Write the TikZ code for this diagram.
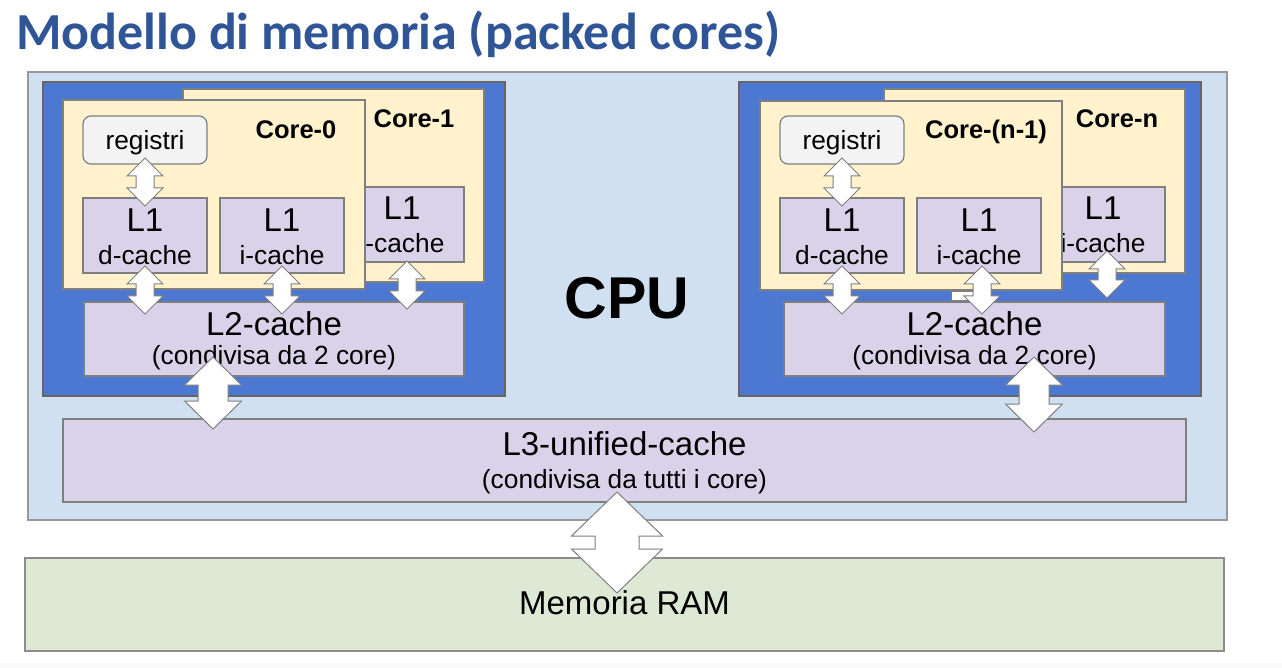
\documentclass[tikz,border=0pt]{standalone}
\usepackage{fontspec}
\setmainfont{Liberation Sans}
\newfontfamily\titlefont{Carlito}
\usetikzlibrary{calc}
\definecolor{cpubg}{HTML}{D0E0F1}
\definecolor{clusterblue}{HTML}{4C78D1}
\definecolor{coreyellow}{HTML}{FFF2CC}
\definecolor{cachepurple}{HTML}{D9D2E9}
\definecolor{regbg}{HTML}{F3F3F3}
\definecolor{ramgreen}{HTML}{DDE8D5}
\definecolor{edgegray}{HTML}{7F7F7F}
\definecolor{titleblue}{HTML}{2F5597}
\newcommand\fsz[1]{\fontsize{#1}{#1}\selectfont}
% block double arrow: #1 top tip, #2 bottom tip, #3 head half width, #4 shaft half width, #5 head length
\newcommand\blockarrow[5]{%
  \path let \p1=#1, \p2=#2 in [arrowbody]
    (\x1,\y1) -- (\x1+#3,\y1-#5) -- (\x1+#4,\y1-#5) -- (\x1+#4,\y2+#5) -- (\x1+#3,\y2+#5)
    -- (\x1,\y2) -- (\x1-#3,\y2+#5) -- (\x1-#4,\y2+#5) -- (\x1-#4,\y1-#5) -- (\x1-#3,\y1-#5) -- cycle;}
\tikzset{
  box/.style={draw=edgegray, line width=1.2pt, inner sep=0pt, outer sep=0pt},
  cpubox/.style={box, fill=cpubg, draw=edgegray!80},
  ramstyle/.style={box, fill=ramgreen, draw=edgegray!90},
  cluster/.style={box, fill=clusterblue, draw=edgegray!80!black},
  corebox/.style={box, fill=coreyellow, minimum width=302pt},
  cachebox/.style={box, fill=cachepurple},
  l1box/.style={cachebox, minimum width=124pt, minimum height=75pt},
  regbox/.style={box, fill=regbg, rounded corners=8pt, minimum width=124pt, minimum height=48pt},
  txt/.style={anchor=base, inner sep=0pt, text=black},
  big/.style={txt, font=\fsz{33}},
  small/.style={txt, font=\fsz{26.3}},
  coretxt/.style={txt, font=\bfseries\fsz{25.5}},
  arrowbody/.style={fill=white, draw=edgegray, line width=1pt, line join=miter},
}
\begin{document}
\begin{tikzpicture}[x=1pt, y=-1pt]
\useasboundingbox (0,0) rectangle (1282,668);
\fill[white] (0,0) rectangle (1282,668);
\fill[black!2] (0,663) rectangle (1282,668);
% title
\node[anchor=base west, inner sep=0pt, text=titleblue, font=\titlefont\bfseries\fsz{52}] (title) at (16,50) {Modello di memoria (packed cores)};
% main boxes
\node[cpubox, minimum width=1199pt, minimum height=448pt] (cpu) at (627.5,296) {};
\node[ramstyle, minimum width=1199pt, minimum height=93pt] (ram) at (624.5,604.5) {};
\node[cachebox, minimum width=1123pt, minimum height=83pt] (L3) at (624.5,460.5) {};
\node[cluster, minimum width=462pt, minimum height=314pt] (blueL) at (274,239) {};
\node[cluster, minimum width=462pt, minimum height=314pt] (blueR) at (970,239) {};
\node[txt, font=\bfseries\fsz{59}] (cputxt) at (627,319) {CPU};
% left cluster
\node[corebox, minimum width=301pt, minimum height=193pt] (core1) at (333.5,185.5) {};
\node[coretxt] (core1txt) at (414,127.5) {Core-1};
\node[l1box] (c1L1) at (402,224.5) {};
\node[big] (c1L1a) at (402,220) {L1};
\node[small] (c1L1b) at (402,253) {i-cache};
\node[corebox, minimum height=189pt] (core0) at (214,194.5) {};
\node[coretxt] (core0txt) at (296,138.5) {Core-0};
\node[regbox] (regL) at (145,140) {};
\node[small] (regLtxt) at (145,149.5) {registri};
\node[l1box] (dL) at (145,235.5) {};
\node[big] (dLa) at (145,231.5) {L1};
\node[small] (dLb) at (145,265) {d-cache};
\node[l1box] (iL) at (282,235.5) {};
\node[big] (iLa) at (282,231.5) {L1};
\node[small] (iLb) at (282,265) {i-cache};
\node[cachebox, minimum width=380pt, minimum height=74pt] (L2L) at (274,339) {};
\node[big] (L2La) at (274,335) {L2-cache};
\node[small] (L2Lb) at (274,364.5) {(condivisa da 2 core)};
% right cluster
\node[corebox, minimum width=301pt, minimum height=184pt] (coren) at (1034.5,181) {};
\node[coretxt] (corentxt) at (1117,127.5) {Core-n};
\node[l1box] (cnL1) at (1103,224.5) {};
\node[big] (cnL1a) at (1103,220) {L1};
\node[small] (cnL1b) at (1103,253) {i-cache};
\node[corebox, minimum height=189pt] (corem) at (911,195.5) {};
\node[coretxt] (coremtxt) at (986,138.5) {Core-(n-1)};
\node[regbox] (regR) at (842,140) {};
\node[small] (regRtxt) at (842,149.5) {registri};
\node[l1box] (dR) at (842,235.5) {};
\node[big] (dRa) at (842,231.5) {L1};
\node[small] (dRb) at (842,265) {d-cache};
\node[l1box] (iR) at (979,235.5) {};
\node[big] (iRa) at (979,231.5) {L1};
\node[small] (iRb) at (979,265) {i-cache};
\node[cachebox, minimum width=381pt, minimum height=74pt] (L2R) at (974.5,339) {};
\node[big] (L2Ra) at (974.5,335) {L2-cache};
\node[small] (L2Rb) at (974.5,364.5) {(condivisa da 2 core)};
% L3 and RAM texts
\node[big] (L3a) at (624.5,455) {L3-unified-cache};
\node[small] (L3b) at (624.5,488.5) {(condivisa da tutti i core)};
\node[big] (ramtxt) at (624.5,614) {Memoria RAM};
% arrows, left
\blockarrow{($(regL.south)+(0,-6)$)}{($(dL.north)+(0,8)$)}{18pt}{9pt}{18pt}
\blockarrow{($(dL.south)+(0,-7)$)}{($(dL.south |- L2L.north)+(0,12)$)}{18pt}{9pt}{18pt}
\blockarrow{($(iL.south)+(0,-7)$)}{($(iL.south |- L2L.north)+(0,12)$)}{18pt}{9pt}{18pt}
\blockarrow{($(c1L1.south)+(5,-1)$)}{($(c1L1.south |- L2L.north)+(5,7)$)}{18pt}{9pt}{18pt}
\blockarrow{($(L2L.south)+(-61,-19)$)}{($(L2L.south |- L3.north)+(-61,10)$)}{28.5pt}{15pt}{28pt}
% arrows, right
\blockarrow{($(regR.south)+(0,-6)$)}{($(dR.north)+(0,8)$)}{18pt}{9pt}{18pt}
\blockarrow{($(dR.south)+(0,-7)$)}{($(dR.south |- L2R.north)+(0,12)$)}{18pt}{9pt}{18pt}
\path[arrowbody] (951,292) rectangle (975,301);
\blockarrow{($(iR.south)+(3,-7)$)}{($(iR.south |- L2R.north)+(3,12)$)}{18pt}{9pt}{18pt}
\blockarrow{($(cnL1.south)+(4,-11)$)}{($(cnL1.south |- L2R.north)+(4,-4)$)}{18pt}{9pt}{18pt}
\blockarrow{($(L2R.south)+(59.5,-19)$)}{($(L2R.south |- L3.north)+(59.5,13)$)}{28.5pt}{15pt}{28pt}
% L3 <-> RAM
\blockarrow{($(L3.south)+(-7.5,-10)$)}{($(L3.south |- ram.north)+(-7.5,35)$)}{45.5pt}{22pt}{44pt}
\end{tikzpicture}
\end{document}
